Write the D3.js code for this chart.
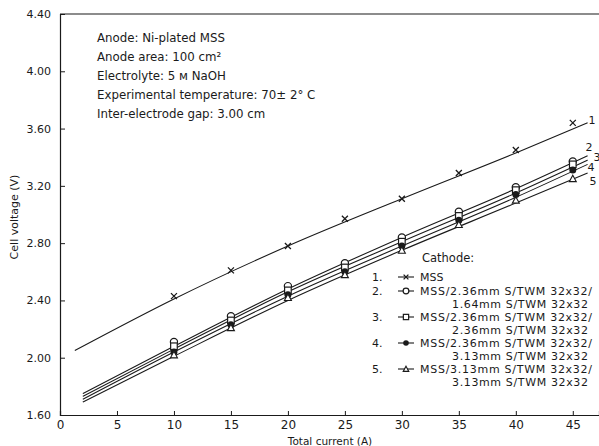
<!DOCTYPE html>
<html><head><meta charset="utf-8">
<script src="https://cdn.jsdelivr.net/npm/d3@7"></script>
<style>
body{margin:0;background:#fff;}
svg{display:block;font-family:"DejaVu Sans",sans-serif;}
</style></head>
<body><svg id="c" width="599" height="446"></svg>
<script>
// ---- data ----
const currents = [10, 15, 20, 25, 30, 35, 40, 45];
const mss      = [2.43, 2.61, 2.78, 2.97, 3.11, 3.29, 3.45, 3.64];
const mss164   = [2.11, 2.29, 2.50, 2.66, 2.84, 3.02, 3.19, 3.37];
const mss236   = [2.08, 2.26, 2.47, 2.63, 2.81, 2.99, 3.17, 3.35];
const mss313a  = [2.04, 2.23, 2.44, 2.60, 2.78, 2.96, 3.14, 3.31];
const mss313b  = [2.02, 2.21, 2.42, 2.58, 2.75, 2.93, 3.10, 3.25];
// fitted curves
const fitX1 = [1.3, 10, 20, 30, 40, 46.3];
const fit1  = [2.05, 2.41, 2.78, 3.11, 3.43, 3.64];
const fitX  = [2, 10, 20, 30, 40, 46.3];
const fit2  = [1.75, 2.08, 2.48, 2.84, 3.18, 3.41];
const fit3  = [1.73, 2.06, 2.46, 2.81, 3.15, 3.38];
const fit4  = [1.71, 2.04, 2.43, 2.78, 3.12, 3.35];
const fit5  = [1.69, 2.01, 2.40, 2.75, 3.08, 3.29];
const xTicks = [0, 5, 10, 15, 20, 25, 30, 35, 40, 45];
const yTicks = [1.60, 2.00, 2.40, 2.80, 3.20, 3.60, 4.00, 4.40];
const notes = ["Anode: Ni-plated MSS", "Anode area: 100 cm\u00b2", "Electrolyte: 5 \u043c  NaOH",
  "Experimental temperature: 70\u00b1 2\u00b0 C", "Inter-electrode gap: 3.00 cm"];
const legendLabels = [
  ["1.", "MSS", null],
  ["2.", "MSS/2.36mm S/TWM  32x32/", "1.64mm S/TWM  32x32"],
  ["3.", "MSS/2.36mm S/TWM  32x32/", "2.36mm S/TWM  32x32"],
  ["4.", "MSS/2.36mm S/TWM  32x32/", "3.13mm S/TWM  32x32"],
  ["5.", "MSS/3.13mm S/TWM  32x32/", "3.13mm S/TWM  32x32"]
];
const markers = ["cross", "circle", "square", "dot", "triangle"];

// ---- layout ----
const svg = d3.select("#c");
const x = d3.scaleLinear().domain([0, 47.3]).range([60, 599]);
const y = d3.scaleLinear().domain([1.6, 4.4]).range([415, 14]);
const ink = "#1a1a1a";

// axes
const gx = svg.append("g").attr("transform", "translate(0,415)")
  .call(d3.axisBottom(x).tickValues(xTicks).tickSize(-4).tickPadding(5).tickFormat(d3.format("d")));
const gy = svg.append("g").attr("transform", "translate(60,0)")
  .call(d3.axisLeft(y).tickValues(yTicks).tickSize(-5).tickPadding(9).tickFormat(d3.format(".2f")));
[gx, gy].forEach(g => {
  g.select(".domain").attr("stroke", ink).attr("stroke-width", 1.2);
  g.selectAll(".tick line").attr("stroke", ink);
  g.selectAll(".tick text").attr("fill", ink).attr("font-family", "DejaVu Sans");
});
gx.selectAll(".tick text").attr("font-size", 12);
gy.selectAll(".tick text").attr("font-size", 11);
// top frame
svg.append("line").attr("x1", x(0)).attr("x2", 599).attr("y1", y(4.4)).attr("y2", y(4.4))
  .attr("stroke", ink).attr("stroke-width", 1.2);

// axis titles
svg.append("text").attr("x", 330).attr("y", 444.5).attr("text-anchor", "middle")
  .attr("font-size", 10.5).attr("fill", ink).text("Total current (A)");
svg.append("text").attr("transform", "translate(18,217) rotate(-90)").attr("text-anchor", "middle")
  .attr("font-size", 11).attr("fill", ink).text("Cell voltage (V)");

// curves
const line = d3.line().x(d => x(d[0])).y(d => y(d[1])).curve(d3.curveMonotoneX);
const fits = [[fitX1, fit1], [fitX, fit2], [fitX, fit3], [fitX, fit4], [fitX, fit5]];
fits.forEach(([xs, ys]) => {
  svg.append("path").datum(xs.map((v, i) => [v, ys[i]])).attr("d", line)
    .attr("fill", "none").attr("stroke", ink).attr("stroke-width", 1.1);
});

// markers
function drawMarker(g, type, cx, cy, k = 1) {
  if (type === "cross") {
    const a = 3 * k;
    g.append("path").attr("d", `M${cx-a},${cy-a}L${cx+a},${cy+a}M${cx-a},${cy+a}L${cx+a},${cy-a}`)
      .attr("stroke", ink).attr("stroke-width", 1.3);
  } else if (type === "circle") {
    g.append("circle").attr("cx", cx).attr("cy", cy).attr("r", 3.6 * k).attr("fill", "#fff").attr("stroke", ink).attr("stroke-width", 1.2);
  } else if (type === "square") {
    const a = 3.3 * k;
    g.append("rect").attr("x", cx-a).attr("y", cy-a).attr("width", 2*a).attr("height", 2*a).attr("fill", "#fff").attr("stroke", ink).attr("stroke-width", 1.2);
  } else if (type === "dot") {
    g.append("circle").attr("cx", cx).attr("cy", cy).attr("r", 3.5 * k).attr("fill", ink);
  } else {
    const a = 3.5 * k;
    g.append("path").attr("d", `M${cx},${cy-a}L${cx+a},${cy+a*0.85}L${cx-a},${cy+a*0.85}Z`).attr("fill", "#fff").attr("stroke", ink).attr("stroke-width", 1.1);
  }
}
const series = [mss, mss164, mss236, mss313a, mss313b];
const mg = svg.append("g");
series.forEach((vals, s) => {
  vals.forEach((v, i) => drawMarker(mg, markers[s], x(currents[i]), y(v)));
});

// curve labels
const endLabels = [["1", 592, 124], ["2", 589, 151], ["3", 597, 161], ["4", 591, 171], ["5", 593, 185]];
endLabels.forEach(([t, lx, ly]) => svg.append("text").attr("x", lx).attr("y", ly)
  .attr("font-size", 11).attr("fill", ink).attr("text-anchor", "middle").text(t));

// notes
notes.forEach((t, i) => svg.append("text").attr("x", 97).attr("y", 42 + i * 19)
  .attr("font-size", 11.8).attr("fill", ink).text(t));

// legend
const lf = 11;
svg.append("text").attr("x", 422).attr("y", 262).attr("font-size", lf + 0.5).attr("fill", ink).text("Cathode:");
const rowY = [[281, null], [295, 308], [321, 334], [347, 360], [373, 386]];
legendLabels.forEach((row, i) => {
  const [n, l1, l2] = row;
  const [y1, y2] = rowY[i];
  svg.append("text").attr("x", 372).attr("y", y1).attr("font-size", lf).attr("fill", ink).text(n);
  svg.append("line").attr("x1", 398).attr("x2", 414).attr("y1", y1 - 4).attr("y2", y1 - 4).attr("stroke", ink).attr("stroke-width", 1.1);
  drawMarker(svg, markers[i], 406, y1 - 4, 0.8);
  const t1 = svg.append("text").attr("x", 420).attr("y", y1).attr("font-size", lf).attr("fill", ink).text(l1);
  if (l2) {
    t1.attr("textLength", 172).attr("lengthAdjust", "spacing");
    svg.append("text").attr("x", 452).attr("y", y2)
      .attr("font-size", lf).attr("fill", ink).attr("textLength", 136).attr("lengthAdjust", "spacing").text(l2);
  }
});
</script></body></html>
